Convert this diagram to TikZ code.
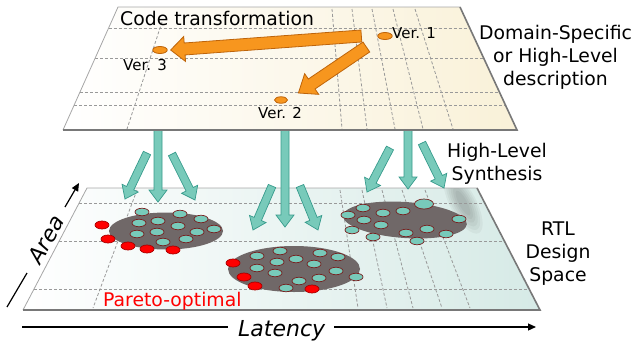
\documentclass[tikz,border=0pt]{standalone}
\usepackage{fontspec}
\setmainfont{DejaVu Sans}
\usetikzlibrary{calc,shapes.geometric,arrows.meta}

\definecolor{orf}{RGB}{247,150,30}
\definecolor{ord}{RGB}{190,100,10}
\definecolor{tlf}{RGB}{120,202,186}
\definecolor{tld}{RGB}{55,155,140}
\definecolor{dotd}{RGB}{120,30,30}
\definecolor{clg}{RGB}{112,104,104}
\definecolor{cream}{RGB}{249,241,216}
\definecolor{paleteal}{RGB}{214,234,230}
\definecolor{midteal}{RGB}{234,248,247}
\definecolor{edgegray}{RGB}{120,120,120}

\newcommand\fatarrow[6]{%
  \path[#6] let \p1=(#1), \p2=(#2), \n1={atan2(\y2-\y1,\x2-\x1)},
    \n2={veclen(\x2-\x1,\y2-\y1)-#5} in
    ($(\p1)+(\n1+90:#3)$) -- ($(\p1)!1pt*\n2!(\p2)+(\n1+90:#3)$)
    -- ($(\p1)!1pt*\n2!(\p2)+(\n1+90:#4)$) -- (\p2)
    -- ($(\p1)!1pt*\n2!(\p2)+(\n1-90:#4)$) -- ($(\p1)!1pt*\n2!(\p2)+(\n1-90:#3)$)
    -- ($(\p1)+(\n1-90:#3)$) -- cycle;}

\tikzset{
  lbl/.style={font=\fontsize{18.8}{23}\selectfont, inner sep=0pt, align=center},
  small/.style={font=\fontsize{15}{17}\selectfont, inner sep=0pt},
  axislbl/.style={font=\fontsize{22}{26}\selectfont\itshape, inner sep=0pt},
  gridline/.style={draw=gray!80, dash pattern=on 3pt off 2pt, line width=0.8pt},
  thinedge/.style={draw=gray!70, line width=0.8pt},
  thickedge/.style={draw=edgegray, line width=1.6pt},
  verdot/.style={ellipse, fill=orf, draw=ord, line width=0.8pt, inner sep=0pt, minimum width=14.5pt, minimum height=7pt},
  tdot/.style={ellipse, fill=tlf, draw=dotd, line width=0.7pt, inner sep=0pt, minimum width=14pt, minimum height=7.5pt},
  rdot/.style={ellipse, fill=red, draw=red!65!black, line width=0.7pt, inner sep=0pt, minimum width=14pt, minimum height=8pt},
  cluster/.style={ellipse, fill=clg, inner sep=0pt},
  orarrow/.style={fill=orf, draw=ord, line width=0.8pt},
  tlarrow/.style={fill=tlf, draw=tld, line width=0.7pt},
  axis/.style={draw=black, line width=1.2pt},
}

\begin{document}
\begin{tikzpicture}[x=1pt,y=-1pt]
\useasboundingbox (0,0) rectangle (635,346);

% ---------- bottom plane ----------
\coordinate (bTL) at (87,188);
\coordinate (bTR) at (477,188);
\coordinate (bBR) at (540,310);
\coordinate (bBL) at (23,310);
\shade[left color=white, middle color=midteal, right color=paleteal] (bTL)--(bTR)--(bBR)--(bBL)--cycle;
\begin{scope}
  \clip (bTL)--(bTR)--(bBR)--(bBL)--cycle;
  \foreach \k in {0,...,5}
    {\fill[black, opacity=0.04] (463,203) ellipse [x radius=34-4*\k, y radius=13-1.8*\k, rotate=-62];}
\end{scope}
\foreach \q in {0.123,0.434,0.828}
  {\draw[gridline] ($(bTL)!\q!(bBL)$) -- ($(bTR)!\q!(bBR)$);}
\draw[gridline] (137,190) -- (93,308);
\draw[gridline] (340,190) -- (358,308);
\draw[gridline] (362,190) -- (387,308);
\draw[gridline] (382,190) -- (413,308);
\draw[gridline] (402,190) -- (442,308);
\draw[gridline] (425,190) -- (470,308);
\draw[thinedge] (bBL)--(bTL)--(bTR);
\draw[thickedge] (bTR)--(bBR)--(bBL);

% ---------- clusters ----------
\node[cluster, minimum width=114pt, minimum height=37pt] (cl) at (166,231) {};
\node[cluster, minimum width=132pt, minimum height=46pt] (cm) at (294,269) {};
\node[cluster, minimum width=124pt, minimum height=36pt, rotate=-4] (cr) at (405,220) {};

\foreach \xx/\yy [count=\i] in {142/212,180/214,201/219,139/223,158/221,178/226,214/229,137/234,157/232,197/232,163/242,186/239}
  {\node[tdot] (lt\i) at (\xx,\yy) {};}
\foreach \xx/\yy [count=\i] in {102/225,108/239,128/246,147/249,173/250}
  {\node[rdot] (lr\i) at (\xx,\yy) {};}

\foreach \xx/\yy [count=\i] in {257/256,280/251,277/262,296/259,320/253,338/257,314/264,257/268,275/273,299/281,319/278,336/271,356/277,286/288}
  {\node[tdot] (mt\i) at (\xx,\yy) {};}
\foreach \xx/\yy [count=\i] in {233/263,244/277,255/286,312/289}
  {\node[rdot] (mr\i) at (\xx,\yy) {};}

\foreach \xx/\yy [count=\i] in {363/208,348/215,383/213,403/211,364/220,381/225,459/219,352/230,406/233,427/229,446/234,373/237,417/241}
  {\node[tdot] (rt\i) at (\xx,\yy) {};}
\node[tdot, minimum width=19pt, minimum height=10pt] (rbig) at (424,204) {};

\node[lbl, anchor=base west, text=red] (pareto) at (103,306) {Pareto-optimal};

% ---------- teal synthesis arrows ----------
\coordinate (s1a) at (158,130);   \coordinate (e1a) at (158,202);
\coordinate (s1b) at (147,153);   \coordinate (e1b) at (125,199);
\coordinate (s1c) at (172,154);   \coordinate (e1c) at (195,200);
\coordinate (s2a) at (285,130);   \coordinate (e2a) at (285,227);
\coordinate (s2b) at (272,186);   \coordinate (e2b) at (253,230);
\coordinate (s2c) at (300,186);   \coordinate (e2c) at (318,230);
\coordinate (s3a) at (408,130);   \coordinate (e3a) at (408,189);
\coordinate (s3b) at (390,148);   \coordinate (e3b) at (367,192);
\coordinate (s3c) at (422,143);   \coordinate (e3c) at (444,188);
\foreach \g in {1,2,3}{
  \foreach \h in {a,b,c}{
    \fatarrow{s\g\h}{e\g\h}{4pt}{9pt}{12pt}{tlarrow}
  }
}

% ---------- top plane ----------
\coordinate (tTL) at (118,7);
\coordinate (tTR) at (460,7);
\coordinate (tBR) at (517,130);
\coordinate (tBL) at (63,130);
\shade[left color=white, middle color=white, right color=cream] (tTL)--(tTR)--(tBR)--(tBL)--cycle;
\foreach \q in {0.171,0.415,0.691,0.797}
  {\draw[gridline] ($(tTL)!\q!(tBL)$) -- ($(tTR)!\q!(tBR)$);}
\draw[gridline] (162,22) -- (127,129);
\draw[gridline] (332,9) -- (342,129);
\draw[gridline] (352,9) -- (367,129);
\draw[gridline] (372,9) -- (395,129);
\draw[gridline] (393,9) -- (423,129);
\draw[gridline] (415,9) -- (453,129);
\draw[thinedge] (tBL)--(tTL)--(tTR);
\draw[thickedge] (tTR)--(tBR)--(tBL);

\node[lbl, anchor=base west] (code) at (120,25) {Code transformation};

\node[verdot] (ver1) at (385,36) {};
\node[verdot] (ver3) at (160,50) {};
\node[verdot, minimum width=13pt, minimum height=6.5pt] (ver2) at (281,100) {};
\node[small, anchor=base west] (v1l) at (392,38) {Ver. 1};
\node[small, anchor=base west] (v3l) at (123,70.5) {Ver. 3};
\node[small, anchor=base west] (v2l) at (258,118) {Ver. 2};

\coordinate (o1s) at ($(ver1.west)+(-16,0)$);
\coordinate (o1e) at ($(ver3.east)+(3,0)$);
\coordinate (o2s) at ($(ver1.west)+(-11,11)$);
\coordinate (o2e) at ($(ver2.east)+(10.5,-7)$);
\fatarrow{o1s}{o1e}{6pt}{12.5pt}{14pt}{orarrow}
\fatarrow{o2s}{o2e}{6pt}{12.5pt}{16pt}{orarrow}

% ---------- side labels ----------
\node[lbl] (dsl) at (555.5,57.5) {Domain-Specific\\or High-Level\\description};
\node[lbl] (hls) at (497,163.5) {High-Level\\Synthesis};
\node[lbl] (rtl) at (558,253.4) {RTL\\Design\\Space};

% ---------- axes ----------
\node[axislbl, anchor=base west] (lat) at (238,336) {Latency};
\coordinate (x0) at (22,327);
\coordinate (x1) at (228,327);
\coordinate (x2) at (334,327);
\coordinate (x3) at (536,327);
\draw[axis] (x0) -- (x1);
\draw[axis, -{Triangle[length=8pt,width=7pt]}] (x2) -- (x3);

\node[axislbl, rotate=60] (area) at (46,239) {Area};
\coordinate (a0) at (7,307);
\coordinate (a1) at (27,273);
\coordinate (a2) at (65,207);
\coordinate (a3) at (79,183);
\draw[axis] (a0) -- (a1);
\draw[axis, -{Triangle[length=8pt,width=7pt]}] (a2) -- (a3);
\end{tikzpicture}
\end{document}
